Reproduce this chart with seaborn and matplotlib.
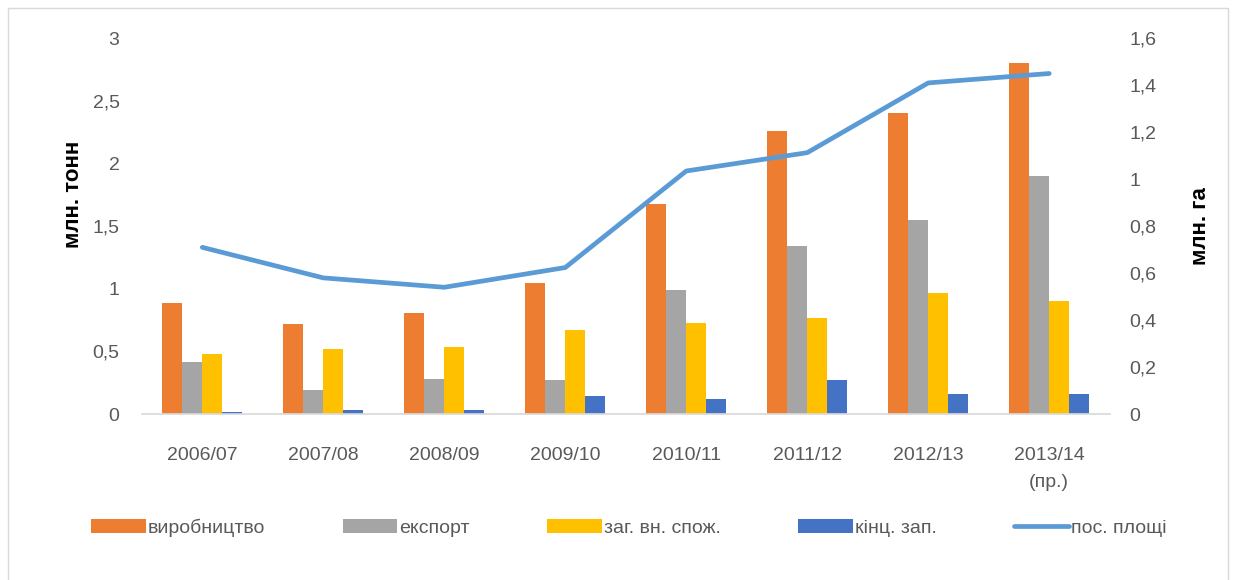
import numpy as np
import pandas as pd
import matplotlib
matplotlib.use("Agg")
import matplotlib.pyplot as plt
from matplotlib.lines import Line2D
from matplotlib.patches import Patch, Rectangle
import seaborn as sns

# data
seasons = ["2006/07", "2007/08", "2008/09", "2009/10", "2010/11", "2011/12", "2012/13", "2013/14\n(пр.)"]
production = [0.89, 0.72, 0.81, 1.05, 1.68, 2.26, 2.40, 2.80]
export = [0.42, 0.19, 0.28, 0.27, 0.99, 1.34, 1.55, 1.90]
consumption = [0.48, 0.52, 0.535, 0.67, 0.73, 0.77, 0.965, 0.905]
stocks = [0.02, 0.035, 0.035, 0.146, 0.117, 0.27, 0.157, 0.157]
area = [0.71, 0.58, 0.54, 0.624, 1.035, 1.113, 1.41, 1.45]

bar_names = ["виробництво", "експорт", "заг. вн. спож.", "кінц. зап."]
line_name = "пос. площі"
bar_colors = ["#ED7D31", "#A5A5A5", "#FFC000", "#4472C4"]
line_color = "#5B9BD5"
text_color = "#595959"

left_ticks = np.arange(0, 3.01, 0.5)
right_ticks = np.round(np.arange(0, 1.61, 0.2), 1)

df = pd.DataFrame({
    "season": seasons * 4,
    "series": sum([[n] * len(seasons) for n in bar_names], []),
    "value": production + export + consumption + stocks,
})


def comma(v):
    return f"{v:g}".replace(".", ",")


sns.set_theme(style="white")
plt.rcParams["font.family"] = ["Liberation Sans Narrow", "Liberation Sans", "DejaVu Sans"]

fig = plt.figure(figsize=(12.33, 5.8), dpi=100)
ax = fig.add_axes([0.115, 0.286, 0.785, 0.648])

sns.barplot(data=df, x="season", y="value", hue="series", hue_order=bar_names,
            palette=bar_colors, width=0.66, gap=0, saturation=1,
            edgecolor="none", linewidth=0, ax=ax, legend=False)

ax2 = ax.twinx()
sns.lineplot(x=np.arange(len(seasons)), y=area, color=line_color, linewidth=3.4,
             ax=ax2, legend=False)

ax.set_xlim(-0.5, len(seasons) - 0.5)
ax.set_ylim(0, 3)
ax2.set_ylim(0, 1.6)
ax.set_yticks(left_ticks)
ax.set_yticklabels([comma(v) for v in left_ticks])
ax2.set_yticks(right_ticks)
ax2.set_yticklabels([comma(v) for v in right_ticks])

for a in (ax, ax2):
    for s in a.spines.values():
        s.set_visible(False)
    a.tick_params(length=0, labelsize=14, colors=text_color)
ax.spines["bottom"].set_visible(True)
ax.spines["bottom"].set_color("#D9D9D9")
ax.tick_params(axis="y", pad=16)
ax.tick_params(axis="x", pad=24)
ax2.tick_params(axis="y", pad=14)
for t in ax.get_xticklabels():
    t.set_linespacing(1.7)

ax.set_xlabel("")
ax.set_ylabel("млн. тонн", fontsize=16, fontweight="bold", color="black")
ax.yaxis.set_label_coords(-0.060, 0.585)
ax2.set_ylabel("млн. га", fontsize=16, fontweight="bold", color="black")
ax2.yaxis.set_label_coords(1.083, 0.5)

handles = [Patch(facecolor=c, edgecolor="none") for c in bar_colors]
handles.append(Line2D([0], [0], color=line_color, linewidth=3.4))
fig.legend(handles, bar_names + [line_name], loc="center", bbox_to_anchor=(0.51, 0.09),
           ncol=5, frameon=False, fontsize=14, handlelength=2.8, handleheight=0.7,
           handletextpad=0.1, columnspacing=4.0, labelcolor=text_color)

fig.patches.append(Rectangle((8 / 1233, -0.05), 1220 / 1233, 1.05 - 8 / 580,
                             transform=fig.transFigure, fill=False,
                             edgecolor="#D9D9D9", linewidth=1))

fig.savefig("out.png", dpi=100, facecolor="white")
